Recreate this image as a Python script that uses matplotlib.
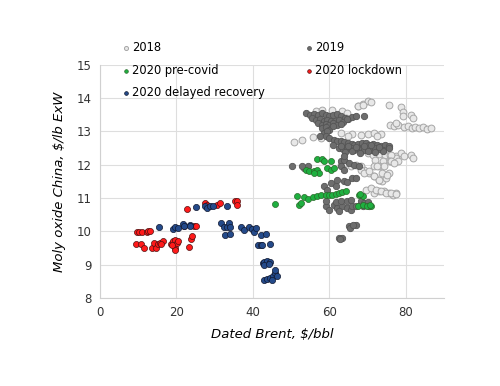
import numpy as np
import matplotlib
matplotlib.use("Agg")
import matplotlib.pyplot as plt

# 2018
x2018 = [67.4, 68.7, 70.0, 70.9, 75.7, 78.7, 79.2, 81.4, 81.8, 79.3,
         76.0, 77.0, 78.0, 79.5, 80.5, 81.5, 82.5, 83.5, 84.5, 85.5, 86.5, 77.5,
         56.4, 58.2, 60.8, 63.4, 64.7, 64.3, 57.7, 67.4, 68.7,
         50.7, 52.9, 55.6, 57.7, 63.0, 66.0, 68.2, 70.0, 71.7, 73.5, 65.0, 72.5,
         70.0, 71.5, 73.0, 74.5, 76.0, 77.5, 78.7, 79.6, 81.4, 81.8, 77.4, 76.1,
         72.0, 74.0, 76.0, 78.0,
         69.1, 70.4, 71.7, 73.0, 73.9, 74.8, 75.7, 71.7, 73.0, 74.4, 76.1, 77.0,
         71.7, 73.0, 74.4, 75.7, 76.6, 77.4,
         63.0, 64.3, 65.6, 66.9, 68.2,
         69.6, 70.9, 72.2, 73.5, 74.8, 76.1, 77.4,
         68.2, 69.1, 70.4, 71.7, 73.0, 73.9, 75.2, 72.6]
y2018 = [13.77, 13.83, 13.90, 13.87, 13.80, 13.73, 13.57, 13.50, 13.40, 13.45,
         13.20, 13.15, 13.18, 13.12, 13.15, 13.10, 13.12, 13.10, 13.12, 13.08, 13.10, 13.25,
         13.60, 13.65, 13.65, 13.60, 13.55, 13.40, 13.40, 13.75, 13.80,
         12.67, 12.73, 12.83, 12.80, 12.95, 12.92, 12.90, 12.93, 12.95, 12.93, 12.85, 12.85,
         12.35, 12.30, 12.33, 12.28, 12.30, 12.25, 12.35, 12.25, 12.30, 12.20, 12.20, 12.30,
         12.15, 12.10, 12.12, 12.10,
         11.85, 11.75, 11.65, 11.55, 11.50, 11.60, 11.75, 11.95, 11.95, 11.95, 12.10, 12.05,
         11.15, 11.20, 11.20, 11.15, 11.10, 11.15,
         12.00, 12.05, 11.95, 12.00, 11.95,
         11.25, 11.30, 11.25, 11.20, 11.15, 11.15, 11.13,
         11.85, 11.75, 11.80, 11.65, 11.55, 11.75, 11.70, 11.95]

# 2019
x2019 = [53.8, 55, 56, 57, 58, 59, 60, 61, 62, 63, 64, 65, 66, 67,
         55.5, 56.5, 57.5, 58.5, 59.5, 60.5, 61.5, 62.5, 63.5, 64.5,
         57, 58, 59, 60, 61, 62, 63, 58, 59, 60, 61, 58.5, 59.5, 69,
         57.5, 59, 60, 61.2, 62, 63, 63.9, 65, 66, 66.5, 67.5, 68.5, 69.6, 70.5, 71.5, 72.5, 73.5, 74.5, 75.5,
         62.5, 63.5, 64.5, 65.6, 66.5, 67.5, 68.5, 69.1, 70, 71, 72, 73, 74, 75.5,
         64, 66, 68, 70, 72, 74, 61, 63, 65, 67, 69, 71, 73,
         63, 63.9, 65.2, 66.5, 67.8, 63, 63.9, 50.3, 53.4, 54.3, 63.9, 52.9,
         58.6, 60.4, 62.1, 63.9, 64.7, 59.5, 61.7, 66, 66.9,
         59.1, 59.9, 61.2, 62.1, 63.4, 64.7, 65.6, 62.5, 66, 66.9,
         68.2, 69.1, 70.2, 68.7, 70.4,
         59.1, 61.7, 63.1, 64.7, 65.6,
         65.2, 66.9, 65.5, 66.3, 62.5, 63.4, 62.8]
y2019 = [13.55, 13.50, 13.52, 13.48, 13.55, 13.50, 13.45, 13.50, 13.52, 13.47, 13.40, 13.38, 13.42, 13.45,
         13.40, 13.35, 13.38, 13.30, 13.35, 13.30, 13.32, 13.35, 13.28, 13.38,
         13.25, 13.20, 13.22, 13.18, 13.25, 13.20, 13.22, 13.10, 13.12, 13.05, 13.15, 12.95, 13.00, 13.45,
         12.85, 12.85, 12.80, 12.75, 12.72, 12.70, 12.68, 12.65, 12.62, 12.60, 12.62, 12.65, 12.65, 12.60, 12.62, 12.60, 12.55, 12.58, 12.55,
         12.50, 12.48, 12.50, 12.50, 12.45, 12.50, 12.48, 12.45, 12.50, 12.45, 12.50, 12.48, 12.45, 12.50,
         12.38, 12.40, 12.35, 12.40, 12.38, 12.42, 12.58, 12.55, 12.56, 12.52, 12.55, 12.58, 12.52,
         12.10, 12.15, 12.05, 12.00, 11.95, 11.95, 11.85, 11.95, 11.90, 11.95, 12.27, 11.97,
         11.35, 11.45, 11.53, 11.50, 11.47, 11.25, 11.35, 11.60, 11.60,
         10.75, 10.65, 10.80, 10.70, 10.75, 10.70, 10.65, 10.60, 10.75, 10.75,
         10.90, 10.85, 10.87, 10.75, 10.75,
         10.90, 10.88, 10.92, 10.90, 10.95,
         10.15, 10.20, 10.10, 10.20, 9.80, 9.80, 9.78]

# 2020 pre-covid
x_pre = [45.9, 51.6, 52.1, 52.5, 53.4, 54.3, 55.6,
         56.9, 57.7, 59.1, 59.9, 60.8, 61.7, 62.5, 63.4, 64.3,
         53.8, 54.7, 56.0, 56.9, 57.3, 56.0,
         56.9, 58.2, 58.6, 60.5, 59.5, 60.4, 61.2,
         67.8, 68.7, 67.5, 68.7, 69.8, 70.9, 68.0, 70.7]
y_pre = [10.83, 11.07, 10.80, 10.85, 11.03, 10.97, 11.03,
         11.07, 11.09, 11.09, 11.09, 11.09, 11.11, 11.15, 11.19, 11.21,
         11.85, 11.80, 11.80, 11.85, 11.75, 11.75,
         12.18, 12.18, 12.10, 12.10, 11.90, 11.85, 11.90,
         11.10, 11.07, 10.77, 10.80, 10.77, 10.75, 11.12, 10.80]

# 2020 lockdown
x_lock = [9.6, 10.2, 10.9, 12.3, 12.5, 13.1, 9.4, 10.6, 11.5, 13.6, 14.1, 14.6, 15.1,
          15.7, 16.6, 18.6, 19.2, 19.7, 19.5, 20.1, 19.5, 20.3, 23.2, 23.8, 24.2,
          22.7, 21.9, 24.5, 25.1, 27.6, 28.0, 30.6, 31.3, 35.2, 35.9, 35.9, 16.0, 18.9]
y_lock = [9.97, 9.98, 9.99, 9.99, 10.00, 10.02, 9.63, 9.63, 9.49, 9.51, 9.65, 9.49, 9.62,
          9.65, 9.70, 9.62, 9.70, 9.73, 9.49, 9.65, 9.44, 9.70, 9.52, 9.78, 9.86,
          10.67, 10.15, 10.15, 10.15, 10.85, 10.80, 10.80, 10.85, 10.92, 10.90, 10.80, 9.62, 9.58]

# 2020 delayed recovery
x_rec = [15.5, 19.2, 19.7, 20.3, 21.6, 22.1, 23.6, 23.6, 25.0,
         27.6, 28.0, 28.9, 29.5, 33.1,
         31.7, 32.4, 33.1, 33.7, 34.1, 32.8, 33.9,
         36.9, 37.6, 38.9, 39.8, 40.2, 40.9, 42.2, 43.5,
         41.3, 42.0, 42.4, 44.4,
         42.6, 43.0, 43.7, 44.4, 42.9, 44.2,
         42.9, 43.7, 44.6, 45.3, 45.9, 46.4, 45.1, 45.7]
y_rec = [10.13, 10.07, 10.13, 10.10, 10.23, 10.17, 10.20, 10.15, 10.73,
         10.75, 10.70, 10.77, 10.77, 10.77,
         10.25, 10.13, 10.13, 10.25, 10.13, 9.90, 9.92,
         10.13, 10.05, 10.13, 10.07, 9.98, 10.10, 9.90, 9.92,
         9.60, 9.60, 9.60, 9.62,
         9.06, 9.09, 9.11, 9.09, 9.00, 9.03,
         8.54, 8.56, 8.60, 8.66, 8.74, 8.66, 8.54, 8.84]

fig = plt.figure(figsize=(5, 3.86), dpi=100)
ax = fig.add_axes([0.2, 0.228, 0.688, 0.604])

h18 = ax.scatter(x2018, y2018, s=24, c="#e8e8e8", edgecolors="#a6a6a6", linewidths=0.7, label="2018", zorder=3)
h19 = ax.scatter(x2019, y2019, s=21, c="#6d6d6d", edgecolors="#555555", linewidths=0.6, label="2019", zorder=4)
hpre = ax.scatter(x_pre, y_pre, s=19, c="#1fb040", edgecolors="#2a6a2a", linewidths=0.5, label="2020 pre-covid", zorder=5)
hlock = ax.scatter(x_lock, y_lock, s=19, c="#ff1a1a", edgecolors="#501010", linewidths=0.5, label="2020 lockdown", zorder=6)
hrec = ax.scatter(x_rec, y_rec, s=20, c="#244a8a", edgecolors="#101830", linewidths=0.5, label="2020 delayed recovery", zorder=7)

ax.set_xlim(0, 90)
ax.set_ylim(8, 15)
ax.set_xticks([0, 20, 40, 60, 80])
ax.set_yticks([8, 9, 10, 11, 12, 13, 14, 15])
ax.grid(True, color="#dedede", linewidth=0.8)
ax.set_axisbelow(True)
for s in ["top", "right"]:
    ax.spines[s].set_visible(False)
for s in ["left", "bottom"]:
    ax.spines[s].set_color("#d0d0d0")
ax.tick_params(length=0, labelsize=8.5, colors="#333333", pad=6)

ax.set_xlabel("Dated Brent, $/bbl", style="italic", fontsize=9.5, labelpad=6)
ax.set_ylabel("Moly oxide China, $/lb ExW", style="italic", fontsize=9.5, labelpad=8)

# legend fills column-wise, so order handles to read row-wise
handles = [h18, hpre, hrec, h19, hlock]
labels = [h.get_label() for h in handles]
fig.legend(handles, labels, loc="upper left", bbox_to_anchor=(0.232, 0.905), ncol=2, frameon=False,
           fontsize=8.3, markerscale=0.6, handletextpad=0.0, handlelength=1.0, columnspacing=3.35,
           labelspacing=0.82, borderaxespad=0)

fig.savefig("out.png", dpi=100)
